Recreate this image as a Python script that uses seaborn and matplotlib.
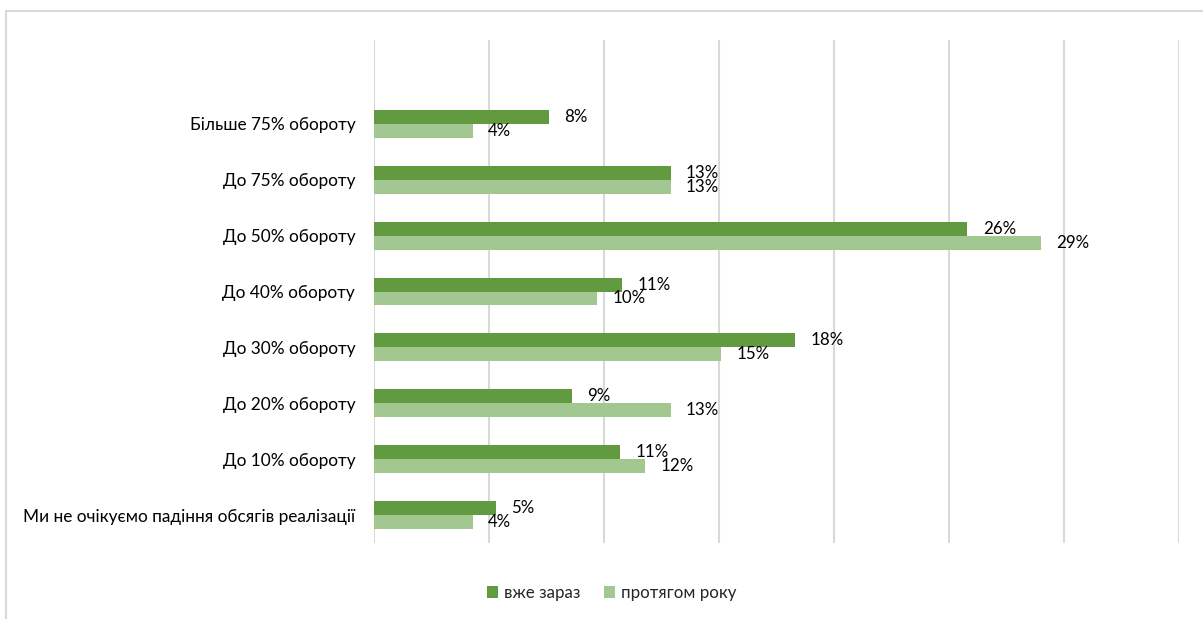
import matplotlib
matplotlib.use("Agg")
import matplotlib.pyplot as plt
from matplotlib.lines import Line2D
import seaborn as sns
import pandas as pd

categories = [
    "Більше 75% обороту",
    "До 75% обороту",
    "До 50% обороту",
    "До 40% обороту",
    "До 30% обороту",
    "До 20% обороту",
    "До 10% обороту",
    "Ми не очікуємо падіння обсягів реалізації",
]
series_names = ["вже зараз", "протягом року"]
now_values = [7.6, 12.9, 25.8, 10.8, 18.3, 8.6, 10.7, 5.3]
year_values = [4.3, 12.9, 29.0, 9.7, 15.1, 12.9, 11.8, 4.3]
x_ticks = [0, 5, 10, 15, 20, 25, 30, 35]

df = pd.DataFrame({
    "category": categories * 2,
    "series": [series_names[0]] * len(categories) + [series_names[1]] * len(categories),
    "value": now_values + year_values,
})

sns.set_theme(style="white")
plt.rcParams["font.family"] = ["Lato", "DejaVu Sans"]

W, H = 1203, 619
fig = plt.figure(figsize=(W / 100, H / 100), dpi=100)
ax = fig.add_axes([374 / W, 1 - 543 / H, (1179 - 374) / W, (543 - 40) / H])

palette = {series_names[0]: "#629A40", series_names[1]: "#A3C791"}
sns.barplot(data=df, y="category", x="value", hue="series", order=categories,
            hue_order=series_names, palette=palette, width=0.5, orient="h",
            saturation=1, ax=ax, zorder=3, linewidth=0)

ax.set_xlim(0, 35)
ax.set_ylim(len(categories) - 0.5, -1.5)
ax.set_xticks(x_ticks)
ax.set_xticklabels([])
ax.grid(axis="x", color="#D9D9D9", linewidth=1.5, zorder=0)
ax.grid(axis="y", visible=False)
for s in ax.spines.values():
    s.set_visible(False)
ax.tick_params(axis="both", length=0)
ax.tick_params(axis="y", pad=13.5, labelsize=12.4, labelcolor="#000000")
ax.set_xlabel("")
ax.set_ylabel("")

for cont in ax.containers:
    ax.bar_label(cont, labels=[f"{v:.0f}%" for v in cont.datavalues],
                 padding=11, fontsize=12.2, color="#000000")

leg = ax.legend(loc="center", bbox_to_anchor=(612 / W, 1 - 593 / H),
                bbox_transform=fig.transFigure, ncol=2, frameon=False,
                fontsize=12.2, handlelength=0.65, handleheight=0.65,
                handletextpad=0.35, columnspacing=1.4)

fig.add_artist(Line2D([5.5 / W, 1.0], [1 - 10.5 / H, 1 - 10.5 / H],
                      transform=fig.transFigure, color="#D9D9D9", linewidth=1.5))
fig.add_artist(Line2D([5.5 / W, 5.5 / W], [0, 1 - 10.5 / H],
                      transform=fig.transFigure, color="#D9D9D9", linewidth=1.5))

fig.savefig("out.png", dpi=100)
